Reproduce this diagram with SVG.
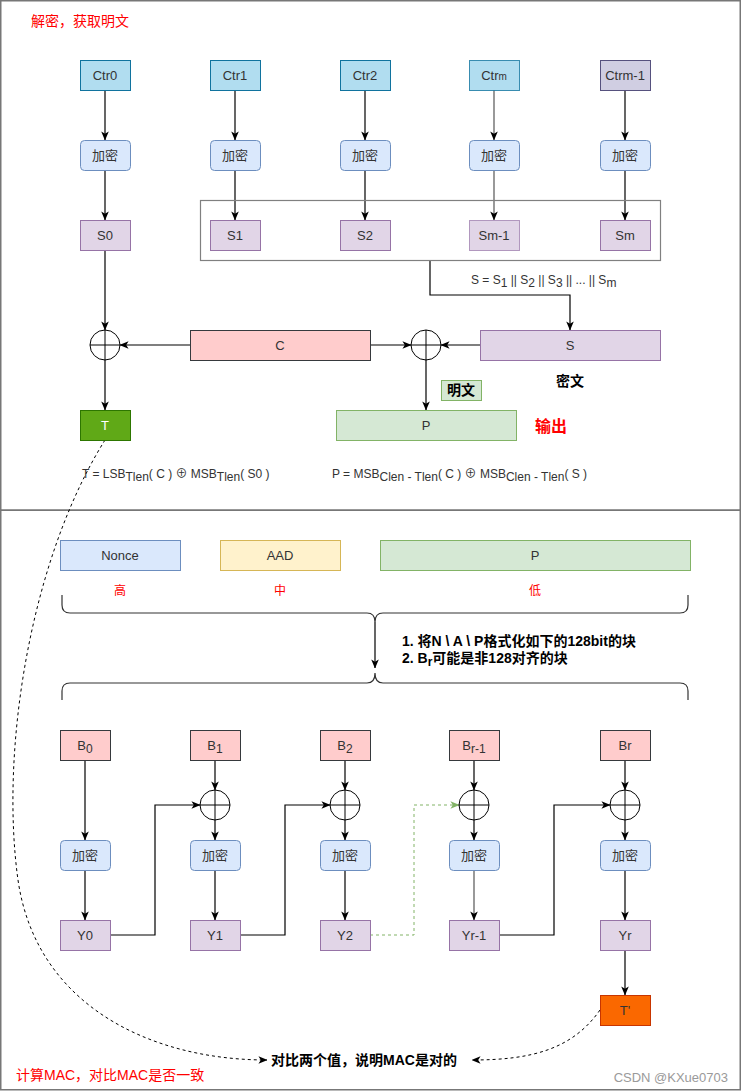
<svg xmlns="http://www.w3.org/2000/svg" width="742" height="1092" viewBox="0 0 742 1092">
<defs>
<marker id="arr" viewBox="0 0 10 10" refX="9.5" refY="5" markerWidth="9" markerHeight="9" markerUnits="userSpaceOnUse" orient="auto"><path d="M0,0.8 L10,5 L0,9.2 L2.6,5 z" fill="#000"/></marker>
<marker id="arrGray" viewBox="0 0 10 10" refX="9.5" refY="5" markerWidth="9" markerHeight="9" markerUnits="userSpaceOnUse" orient="auto"><path d="M0,0.8 L10,5 L0,9.2 L2.6,5 z" fill="#000"/></marker>
<marker id="arrG" viewBox="0 0 10 10" refX="9.5" refY="5" markerWidth="9" markerHeight="9" markerUnits="userSpaceOnUse" orient="auto"><path d="M0,0.8 L10,5 L0,9.2 L2.6,5 z" fill="#82b366"/></marker>
</defs>
<style>
text{font-family:"Liberation Sans","Noto Sans CJK SC",sans-serif;}
.lbl{font-size:13px;fill:#333;text-anchor:middle}
.ctr{fill:#b1ddf0;stroke:#10739e}
.ctrm1{fill:#d0cee2;stroke:#56517e}
.enc{fill:#dae8fc;stroke:#6c8ebf}
.s{fill:#e1d5e7;stroke:#9673a6}
.b{fill:#ffcccc;stroke:#36393d}
.g{fill:#d5e8d4;stroke:#82b366}
.yel{fill:#fff2cc;stroke:#d6b656}
.edge{fill:none;stroke:#000;stroke-width:1.2;marker-end:url(#arr)}
.gray{stroke:#808080;stroke-width:1.6;marker-end:url(#arrGray)}
.green{fill:none;stroke:#82b366;stroke-width:1;stroke-dasharray:3,3;marker-end:url(#arrG)}
.dash{fill:none;stroke:#000;stroke-width:1;stroke-dasharray:3,3;marker-end:url(#arr)}
.xor{fill:#fff;stroke:#000;stroke-width:1}
.red{fill:#ff0000}
.frame{fill:none;stroke:#777;stroke-width:1.5}
.f12{font-size:12px;fill:#333}
.note{font-size:14px;font-weight:bold;fill:#000}
</style>

<g id="frames">
<rect class="frame" x="0.75" y="0.75" width="739.5" height="509.5"/>
<rect class="frame" x="0.75" y="510.25" width="739.5" height="579.5"/>
</g>

<g id="connectors">
<path class="edge" d="M105,90 V140"/>
<path class="edge" d="M105,170 V220"/>
<path class="edge" d="M235,90 V140"/>
<path class="edge" d="M235,170 V220"/>
<path class="edge" d="M365,90 V140"/>
<path class="edge" d="M365,170 V220"/>
<path class="edge gray" d="M494,90 V140"/>
<path class="edge gray" d="M494,170 V220"/>
<path class="edge" d="M625,90 V140"/>
<path class="edge" d="M625,170 V220"/>
<path class="edge" d="M105,250 V330"/>
<path class="edge" d="M105,360 V410"/>
<path class="edge" d="M190,345 H120"/>
<path class="edge" d="M370,345 H411"/>
<path class="edge" d="M480,345 H441"/>
<path class="edge" d="M426,360 V410"/>
<path class="edge" d="M430,260 V295 H570 V330"/>
<path class="edge" d="M375,622 V668"/>
<path class="edge" d="M85,760 V840"/>
<path class="edge" d="M85,870 V920"/>
<path class="edge" d="M215,760 V790"/>
<path class="edge" d="M215,820 V840"/>
<path class="edge" d="M215,870 V920"/>
<path class="edge" d="M345,760 V790"/>
<path class="edge" d="M345,820 V840"/>
<path class="edge" d="M345,870 V920"/>
<path class="edge" d="M474,760 V790"/>
<path class="edge" d="M474,820 V840"/>
<path class="edge gray" d="M474,870 V920"/>
<path class="edge" d="M625,760 V790"/>
<path class="edge" d="M625,820 V840"/>
<path class="edge" d="M625,870 V920"/>
<path class="edge" d="M625,950 V995"/>
<path class="edge" d="M110,935 H155 V805 H200"/>
<path class="edge" d="M240,935 H285 V805 H330"/>
<path class="green" d="M370,935 H414 V805 H459"/>
<path class="edge" d="M499,935 H554 V805 H610"/>
<path class="dash" d="M105,440 C30,560 0,750 18,880 C36,1005 150,1060 267,1060"/>
<path class="dash" d="M600,1010 C572,1050 530,1060 472,1060"/>
</g>

<g id="braces" fill="none" stroke="#333" stroke-width="1.2">
<path d="M62,595 V605 Q62,613 70,613 H367 Q375,613 375,622 Q375,613 383,613 H680 Q688,613 688,605 V595"/>
<path d="M62,700 V691 Q62,683 70,683 H367 Q375,683 375,673 Q375,683 383,683 H680 Q688,683 688,691 V700"/>
</g>

<g id="title"><text x="31" y="26" font-size="14" class="red">解密，获取明文</text></g>

<g id="ctr0"><rect class="ctr" x="80.5" y="60.5" width="50" height="30"/><text class="lbl" x="105" y="80">Ctr0</text></g>
<g id="ctr1"><rect class="ctr" x="210.5" y="60.5" width="50" height="30"/><text class="lbl" x="235" y="80">Ctr1</text></g>
<g id="ctr2"><rect class="ctr" x="340.5" y="60.5" width="50" height="30"/><text class="lbl" x="365" y="80">Ctr2</text></g>
<g id="ctrm"><rect class="ctr" x="469.5" y="60.5" width="50" height="30" stroke-opacity="0.8"/><text class="lbl" x="494" y="80">Ctr<tspan font-size="10">m</tspan></text></g>
<g id="ctrm1"><rect class="ctrm1" x="600.5" y="60.5" width="50" height="30"/><text class="lbl" x="625" y="80">Ctrm-1</text></g>

<g id="enc1"><rect class="enc" x="80.5" y="140.5" width="50" height="30" rx="4"/><text class="lbl" x="105" y="160">加密</text></g>
<g id="enc2"><rect class="enc" x="210.5" y="140.5" width="50" height="30" rx="4"/><text class="lbl" x="235" y="160">加密</text></g>
<g id="enc3"><rect class="enc" x="340.5" y="140.5" width="50" height="30" rx="4"/><text class="lbl" x="365" y="160">加密</text></g>
<g id="enc4"><rect class="enc" x="469.5" y="140.5" width="50" height="30" rx="4"/><text class="lbl" x="494" y="160">加密</text></g>
<g id="enc5"><rect class="enc" x="600.5" y="140.5" width="50" height="30" rx="4"/><text class="lbl" x="625" y="160">加密</text></g>

<g id="sgroup"><rect x="200.5" y="200.5" width="460" height="60" fill="none" stroke="#808080" stroke-width="1.2"/></g>
<g id="s0"><rect class="s" x="80.5" y="220.5" width="50" height="30"/><text class="lbl" x="105" y="240">S0</text></g>
<g id="s1"><rect class="s" x="210.5" y="220.5" width="50" height="30"/><text class="lbl" x="235" y="240">S1</text></g>
<g id="s2"><rect class="s" x="340.5" y="220.5" width="50" height="30"/><text class="lbl" x="365" y="240">S2</text></g>
<g id="sm1"><rect class="s" x="469.5" y="220.5" width="50" height="30" stroke-opacity="0.7"/><text class="lbl" x="494" y="240">Sm-1</text></g>
<g id="sm"><rect class="s" x="600.5" y="220.5" width="50" height="30"/><text class="lbl" x="625" y="240">Sm</text></g>

<g id="sformula"><text class="f12" x="471" y="284">S = S<tspan dy="3">1</tspan><tspan dy="-3"> || S</tspan><tspan dy="3">2</tspan><tspan dy="-3"> || S</tspan><tspan dy="3">3</tspan><tspan dy="-3"> || ... || S</tspan><tspan dy="3">m</tspan></text></g>

<g id="xor1"><circle class="xor" cx="105" cy="345" r="15"/><path d="M90,345 H120 M105,330 V360" stroke="#000"/></g>
<g id="c"><rect class="b" x="190.5" y="330.5" width="180" height="30"/><text class="lbl" x="280" y="350">C</text></g>
<g id="xor2"><circle class="xor" cx="426" cy="345" r="15"/><path d="M411,345 H441 M426,330 V360" stroke="#000"/></g>
<g id="s"><rect class="s" x="480.5" y="330.5" width="180" height="30"/><text class="lbl" x="570" y="350">S</text></g>
<g id="miwen"><text x="570" y="386" class="note" text-anchor="middle" font-size="13">密文</text></g>
<g id="mingwen"><rect class="g" x="441.5" y="380.5" width="40" height="20"/><text x="461" y="395" class="note" font-size="13" text-anchor="middle">明文</text></g>
<g id="t"><rect x="80.5" y="410.5" width="50" height="30" fill="#60a917" stroke="#2d7600"/><text class="lbl" x="105" y="430" fill="#fff" style="fill:#fff">T</text></g>
<g id="p"><rect class="g" x="336.5" y="410.5" width="180" height="30"/><text class="lbl" x="426" y="430">P</text></g>
<g id="output"><text x="551" y="432" font-size="16" font-weight="bold" class="red" text-anchor="middle">输出</text></g>
<g id="tformula"><text class="f12" x="82" y="478">T = LSB<tspan dy="3">Tlen</tspan><tspan dy="-3">( C ) ⊕ MSB</tspan><tspan dy="3">Tlen</tspan><tspan dy="-3">( S0 )</tspan></text></g>
<g id="pformula"><text class="f12" x="332" y="478">P = MSB<tspan dy="3">Clen - Tlen</tspan><tspan dy="-3">( C ) ⊕ MSB</tspan><tspan dy="3">Clen - Tlen</tspan><tspan dy="-3">( S )</tspan></text></g>

<g id="nonce"><rect class="enc" x="60.5" y="540.5" width="120" height="30"/><text class="lbl" x="120" y="560">Nonce</text></g>
<g id="aad"><rect class="yel" x="220.5" y="540.5" width="120" height="30"/><text class="lbl" x="280" y="560">AAD</text></g>
<g id="pin"><rect class="g" x="380.5" y="540.5" width="310" height="30"/><text class="lbl" x="535" y="560">P</text></g>
<g id="levels" font-size="12" text-anchor="middle"><text class="red" x="120" y="595">高</text><text class="red" x="280" y="595">中</text><text class="red" x="535" y="595">低</text></g>
<g id="steps" font-size="14" font-weight="bold"><text x="402" y="646">1. 将N \ A \ P格式化如下的128bit的块</text><text x="402" y="663">2. B<tspan dy="3" font-size="12">r</tspan><tspan dy="-3">可能是非128对齐的块</tspan></text></g>

<g id="b0"><rect class="b" x="60.5" y="730.5" width="50" height="30"/><text class="lbl" x="85" y="750">B<tspan dy="3" font-size="12">0</tspan></text></g>
<g id="b1"><rect class="b" x="190.5" y="730.5" width="50" height="30"/><text class="lbl" x="215" y="750">B<tspan dy="3" font-size="12">1</tspan></text></g>
<g id="b2"><rect class="b" x="320.5" y="730.5" width="50" height="30"/><text class="lbl" x="345" y="750">B<tspan dy="3" font-size="12">2</tspan></text></g>
<g id="br1"><rect class="b" x="449.5" y="730.5" width="50" height="30"/><text class="lbl" x="474" y="750">B<tspan dy="3" font-size="12">r-1</tspan></text></g>
<g id="br"><rect class="b" x="600.5" y="730.5" width="50" height="30"/><text class="lbl" x="625" y="750">Br</text></g>

<g id="bx1"><circle class="xor" cx="215" cy="805" r="15"/><path d="M200,805 H230 M215,790 V820" stroke="#000"/></g>
<g id="bx2"><circle class="xor" cx="345" cy="805" r="15"/><path d="M330,805 H360 M345,790 V820" stroke="#000"/></g>
<g id="bx3"><circle class="xor" cx="474" cy="805" r="15"/><path d="M459,805 H489 M474,790 V820" stroke="#000"/></g>
<g id="bx4"><circle class="xor" cx="625" cy="805" r="15"/><path d="M610,805 H640 M625,790 V820" stroke="#000"/></g>

<g id="benc0"><rect class="enc" x="60.5" y="840.5" width="50" height="30" rx="4"/><text class="lbl" x="85" y="860">加密</text></g>
<g id="benc1"><rect class="enc" x="190.5" y="840.5" width="50" height="30" rx="4"/><text class="lbl" x="215" y="860">加密</text></g>
<g id="benc2"><rect class="enc" x="320.5" y="840.5" width="50" height="30" rx="4"/><text class="lbl" x="345" y="860">加密</text></g>
<g id="benc3"><rect class="enc" x="449.5" y="840.5" width="50" height="30" rx="4"/><text class="lbl" x="474" y="860">加密</text></g>
<g id="benc4"><rect class="enc" x="600.5" y="840.5" width="50" height="30" rx="4"/><text class="lbl" x="625" y="860">加密</text></g>

<g id="y0"><rect class="s" x="60.5" y="920.5" width="50" height="30"/><text class="lbl" x="85" y="940">Y0</text></g>
<g id="y1"><rect class="s" x="190.5" y="920.5" width="50" height="30"/><text class="lbl" x="215" y="940">Y1</text></g>
<g id="y2"><rect class="s" x="320.5" y="920.5" width="50" height="30"/><text class="lbl" x="345" y="940">Y2</text></g>
<g id="yr1"><rect class="s" x="449.5" y="920.5" width="50" height="30"/><text class="lbl" x="474" y="940">Yr-1</text></g>
<g id="yr"><rect class="s" x="600.5" y="920.5" width="50" height="30"/><text class="lbl" x="625" y="940">Yr</text></g>

<g id="tprime"><rect x="600.5" y="995.5" width="50" height="30" fill="#fa6800" stroke="#c73500"/><text class="lbl" x="625" y="1015">T'</text></g>
<g id="compare"><text x="271" y="1065" class="note">对比两个值，说明MAC是对的</text></g>
<g id="calc"><text x="16" y="1080" font-size="14" class="red">计算MAC，对比MAC是否一致</text></g>
<g id="watermark"><text x="728" y="1082" font-size="13" fill="#9a9a9a" text-anchor="end">CSDN @KXue0703</text></g>
</svg>
